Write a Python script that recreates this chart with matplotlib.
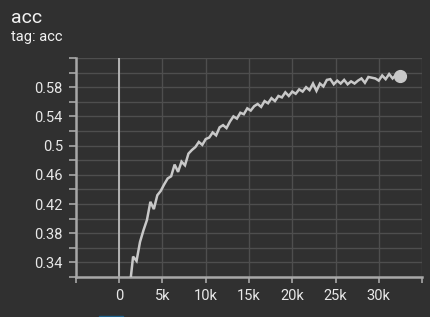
import matplotlib
matplotlib.use("Agg")
import matplotlib.pyplot as plt
import numpy as np

plt.rcParams['font.family'] = ['Roboto', 'DejaVu Sans']

# training steps (logged every 400) and accuracy values
steps = np.arange(1200, 32401, 400)
acc = [
    0.305, 0.348, 0.342, 0.368, 0.384, 0.398, 0.423, 0.413, 0.432, 0.438,
    0.447, 0.455, 0.458, 0.474, 0.464, 0.478, 0.473, 0.489, 0.494, 0.498,
    0.505, 0.501, 0.509, 0.511, 0.518, 0.514, 0.525, 0.528, 0.524, 0.533,
    0.540, 0.537, 0.545, 0.543, 0.551, 0.548, 0.554, 0.557, 0.553, 0.561,
    0.558, 0.565, 0.561, 0.568, 0.566, 0.573, 0.568, 0.574, 0.571, 0.577,
    0.574, 0.580, 0.576, 0.585, 0.575, 0.585, 0.581, 0.590, 0.591, 0.584,
    0.589, 0.585, 0.590, 0.584, 0.588, 0.585, 0.589, 0.592, 0.586, 0.594,
    0.593, 0.592, 0.589, 0.596, 0.591, 0.598, 0.592, 0.597, 0.596,
]

x_ticks = [-5000, 0, 5000, 10000, 15000, 20000, 25000, 30000, 35000]
x_labels = ["", "0", "5k", "10k", "15k", "20k", "25k", "30k", ""]
y_ticks = [0.32, 0.34, 0.36, 0.38, 0.40, 0.42, 0.44, 0.46, 0.48, 0.50,
           0.52, 0.54, 0.56, 0.58, 0.60, 0.62]
y_labels = ["", "0.34", "", "0.38", "", "0.42", "", "0.46", "", "0.5",
            "", "0.54", "", "0.58", "", ""]

bg = "#303030"
grid_c = "#4e4e4e"
axis_c = "#a8a8a8"
text_c = "#e8e8e8"
line_c = "#c8c8c8"

fig = plt.figure(figsize=(4.31, 3.17), dpi=100, facecolor=bg)
ax = fig.add_axes([76 / 431, 40 / 317, 346 / 431, 219 / 317])
ax.set_facecolor(bg)

ax.plot(steps, acc, color=line_c, linewidth=1.8, solid_joinstyle="miter", zorder=3)
ax.plot(steps[-1], acc[-1], "o", color=line_c, markersize=8.5, zorder=4)

ax.axvline(0, color="#bcbcbc", linewidth=1.3, zorder=2)

ax.set_xlim(-5000, 35000)
ax.set_ylim(0.32, 0.62)
ax.set_xticks(x_ticks)
ax.set_xticklabels(x_labels)
ax.set_yticks(y_ticks)
ax.set_yticklabels(y_labels)
ax.grid(True, color=grid_c, linewidth=1.0, zorder=1)
ax.set_axisbelow(True)

for s in ["top", "right"]:
    ax.spines[s].set_visible(False)
for s in ["left", "bottom"]:
    ax.spines[s].set_color(axis_c)
    ax.spines[s].set_linewidth(1.8)

ax.tick_params(axis="y", length=5, width=1.2, color=axis_c, labelcolor=text_c,
               labelsize=10.5, pad=4.5)
ax.tick_params(axis="x", length=4, width=1.2, color=axis_c, labelcolor=text_c,
               labelsize=10.5, pad=5)

fig.text(11 / 431, 1 - 18 / 317, "acc", color="#f2f2f2", fontsize=14,
         va="center", ha="left")
fig.text(11 / 431, 1 - 37 / 317, "tag: acc", color="#f2f2f2", fontsize=10.5,
         va="center", ha="left")

# small blue ui strip at bottom edge
fig.patches.append(plt.Rectangle((99 / 431, 0), 24 / 431, 1.5 / 317,
                                 transform=fig.transFigure, color="#1d5f8a"))

fig.savefig("out.png", dpi=100, facecolor=bg)
